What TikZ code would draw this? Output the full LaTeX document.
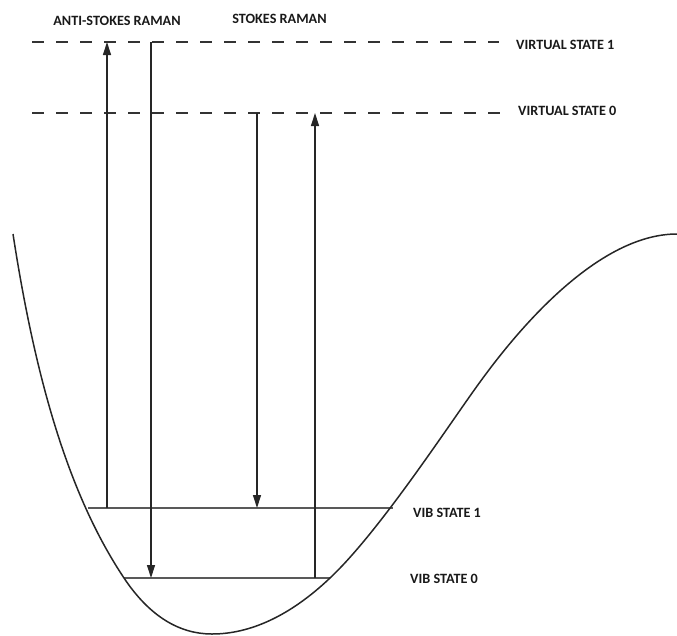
\documentclass[tikz,border=0pt]{standalone}
\usepackage{fontspec}
\setmainfont{Carlito}
\usetikzlibrary{arrows.meta}
\begin{document}
\begin{tikzpicture}[x=1pt,y=-1pt,
  lbl/.style={anchor=west,inner sep=0pt,font=\fontsize{14.2}{16}\selectfont\bfseries,text=black!90},
  toplbl/.style={anchor=center,inner sep=0pt,font=\fontsize{14.2}{16}\selectfont\bfseries,text=black!90},
  virt/.style={line width=1.6pt,black!80,dash pattern=on 12pt off 12pt},
  vib/.style={line width=1.1pt,black!65},
  trans/.style={line width=1.2pt,black!85},
  tip/.style={-{Triangle[width=8pt,length=13pt]}},
  curve/.style={line width=1.5pt,black!85}]
\useasboundingbox (0,0) rectangle (677,635);

% virtual levels
\coordinate (v1l) at (32,42);  \coordinate (v1r) at (499,42);
\coordinate (v0l) at (32,113); \coordinate (v0r) at (500,113);
\draw[virt] (v1l) -- (v1r);
\draw[virt] (v0l) -- (v0r);

% vibrational levels
\coordinate (b1l) at (88,508);  \coordinate (b1r) at (393,508);
\coordinate (b0l) at (124,578); \coordinate (b0r) at (330,578);
\draw[vib] (b1l) -- (b1r);
\draw[vib] (b0l) -- (b0r);

% potential curve
\coordinate (c0) at (13,234);
\coordinate (cmin) at (212,634);
\coordinate (cinf) at (480,382);
\coordinate (c9) at (677,234);
\draw[curve] (c0) .. controls (37,390) and (72,500) .. (b0l)
  .. controls (150,617) and (180,634) .. (cmin)
  .. controls (250,634) and (290,616) .. (b0r)
  .. controls (380,531) and (450,423) .. (cinf)
  .. controls (530,313) and (605,234) .. (c9);

% transitions
\coordinate (asU0) at (107,508); \coordinate (asU1) at (107,42);
\coordinate (asD0) at (151,42);  \coordinate (asD1) at (151,578);
\coordinate (sD0)  at (257,113); \coordinate (sD1)  at (257,508);
\coordinate (sU0)  at (315,578); \coordinate (sU1)  at (315,113);
\draw[trans,tip] (asU0) -- (asU1);
\draw[trans,tip] (asD0) -- (asD1);
\draw[trans,tip] (sD0) -- (sD1);
\draw[trans,tip] (sU0) -- (sU1);

% labels
\node[toplbl] (las) at (117,20.5) {ANTI-STOKES RAMAN};
\node[toplbl] (ls)  at (279.5,19) {STOKES RAMAN};
\node[lbl] (lv1) at (516,44.5) {VIRTUAL STATE 1};
\node[lbl] (lv0) at (518,111) {VIRTUAL STATE 0};
\node[lbl] (lb1) at (413,513) {VIB STATE 1};
\node[lbl] (lb0) at (410,579) {VIB STATE 0};
\end{tikzpicture}
\end{document}
